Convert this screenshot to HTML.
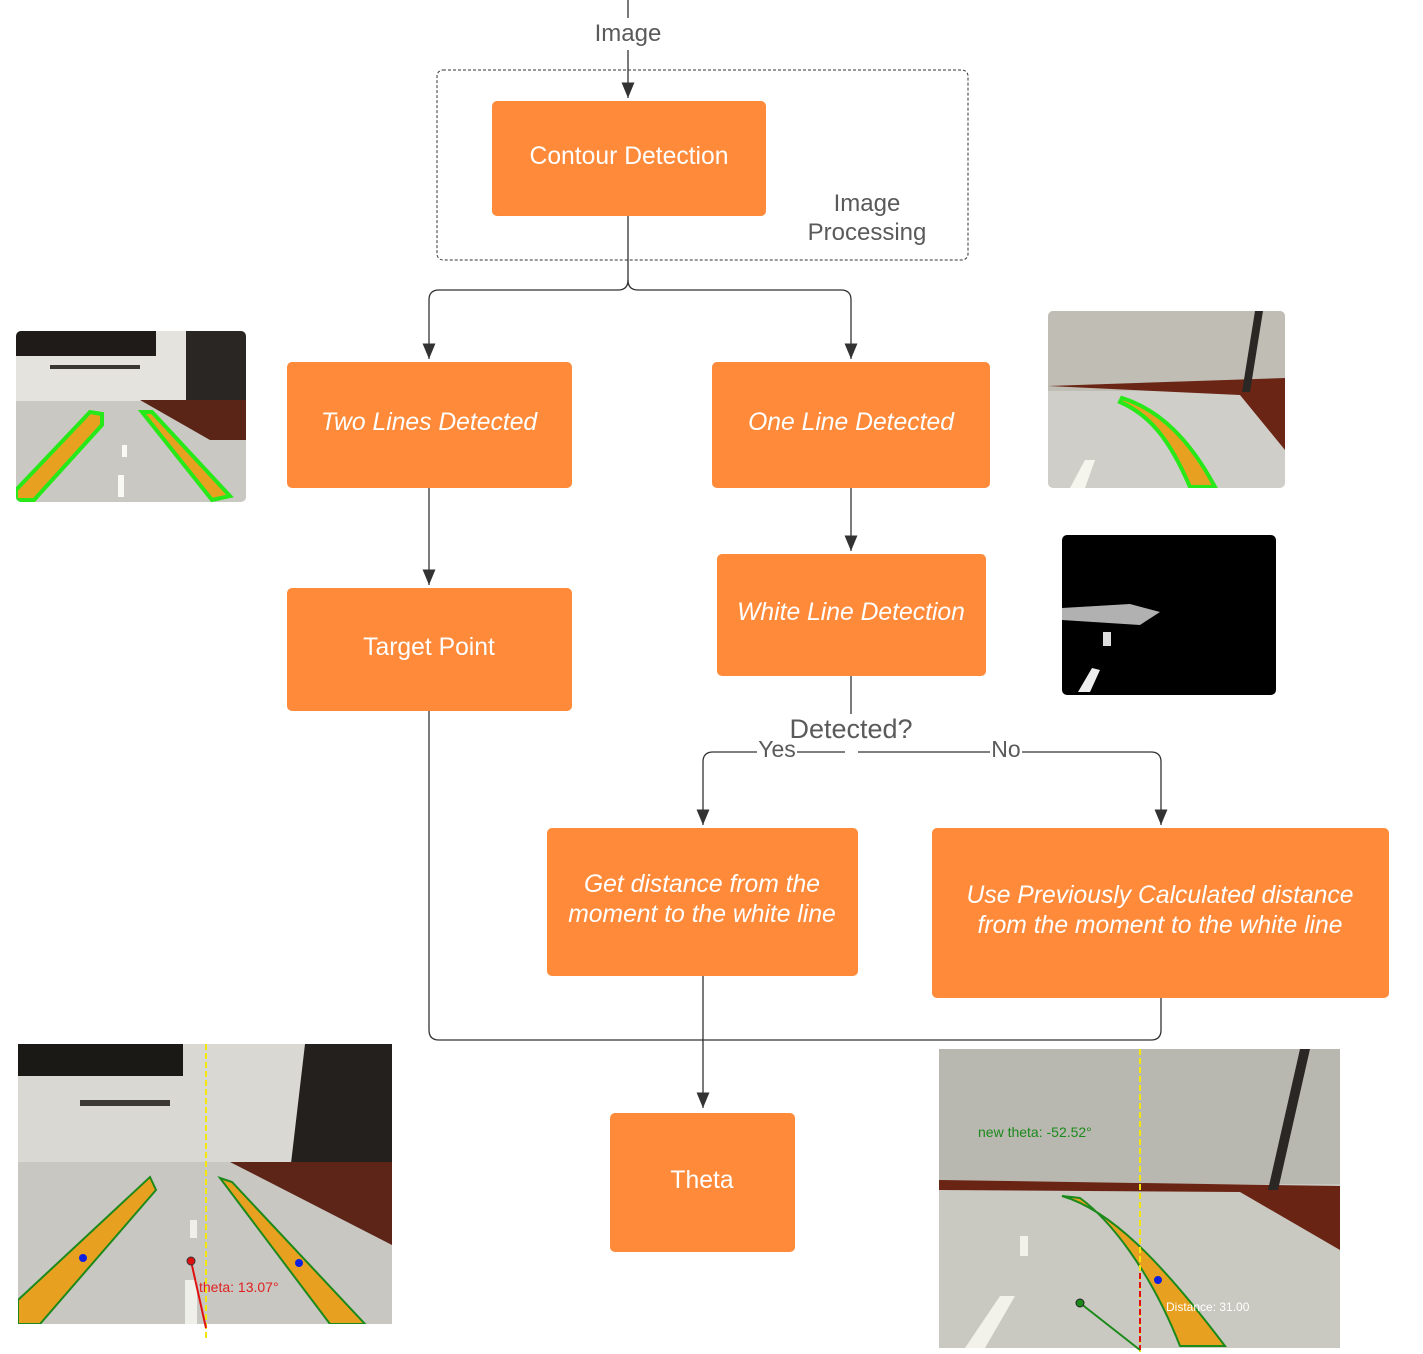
<!DOCTYPE html>
<html><head><meta charset="utf-8"><style>
html,body{margin:0;padding:0;background:#fff}
svg{display:block}
.bt{font-family:"Liberation Sans",sans-serif;font-size:24.7px;fill:#fff;text-anchor:middle}
.it{font-style:italic}
.lb{font-family:"Liberation Sans",sans-serif;font-size:24px;fill:#5a5a5a;text-anchor:middle}
.ln{stroke:#333;stroke-width:1.3;fill:none}
</style></head><body>
<svg width="1423" height="1354" viewBox="0 0 1423 1354" xmlns="http://www.w3.org/2000/svg">
<defs>
<marker id="ar" viewBox="0 0 10 12" markerWidth="10" markerHeight="12" refX="5" refY="12" orient="0"><path d="M0,0 L10,0 L5,12z" fill="#333"/></marker></defs>

<path class="ln" d="M628,0 V18"/>
<path class="ln" d="M628,50 V98" marker-end="url(#ar)"/>
<rect x="437" y="70" width="531" height="190" rx="6" fill="none" stroke="#333" stroke-dasharray="3,2"/>
<path class="ln" d="M628,216 V280 Q628,290 618,290 H439 Q429,290 429,300 V359" marker-end="url(#ar)"/>
<path class="ln" d="M628,280 Q628,290 638,290 H841 Q851,290 851,300 V359" marker-end="url(#ar)"/>
<path class="ln" d="M429,488 V585" marker-end="url(#ar)"/>
<path class="ln" d="M851,488 V551" marker-end="url(#ar)"/>
<path class="ln" d="M851,676 V714"/>
<path class="ln" d="M845,752 H713 Q703,752 703,762 V825" marker-end="url(#ar)"/>
<path class="ln" d="M858,752 H1151 Q1161,752 1161,762 V825" marker-end="url(#ar)"/>
<path class="ln" d="M703,976 V1108" marker-end="url(#ar)"/>
<path class="ln" d="M429,711 V1030 Q429,1040 439,1040 H1151 Q1161,1040 1161,1030 V998"/>
<rect x="757" y="740" width="40" height="20" fill="#fff"/>
<rect x="990" y="740" width="32" height="20" fill="#fff"/>

<text class="lb" x="628" y="41">Image</text>
<text class="lb" x="867" y="211">Image</text>
<text class="lb" x="867" y="240">Processing</text>
<text class="lb" x="851" y="738" style="font-size:27px">Detected?</text>
<text class="lb" x="777" y="757" style="font-size:23px">Yes</text>
<text class="lb" x="1006" y="757" style="font-size:23px">No</text>

<g fill="#fe8a3a">
<rect x="492" y="101" width="274" height="115" rx="5"/>
<rect x="287" y="362" width="285" height="126" rx="5"/>
<rect x="712" y="362" width="278" height="126" rx="5"/>
<rect x="287" y="588" width="285" height="123" rx="5"/>
<rect x="717" y="554" width="269" height="122" rx="5"/>
<rect x="547" y="828" width="311" height="148" rx="5"/>
<rect x="932" y="828" width="457" height="170" rx="5"/>
<rect x="610" y="1113" width="185" height="139" rx="5"/>
</g>
<text class="bt" x="629" y="164">Contour Detection</text>
<text class="bt it" x="429" y="430">Two Lines Detected</text>
<text class="bt it" x="851" y="430">One Line Detected</text>
<text class="bt" x="429" y="655">Target Point</text>
<text class="bt it" x="851" y="620">White Line Detection</text>
<text class="bt it" x="702" y="892">Get distance from the</text>
<text class="bt it" x="702" y="922">moment to the white line</text>
<text class="bt it" x="1160" y="903">Use  Previously Calculated distance</text>
<text class="bt it" x="1160" y="933">from the moment to the white line</text>
<text class="bt" x="702" y="1188">Theta</text>

<g>
<clipPath id="c1"><rect x="16" y="331" width="230" height="171" rx="5"/></clipPath>
<g clip-path="url(#c1)">
<rect x="16" y="331" width="230" height="171" fill="#c9c8c2"/>
<rect x="16" y="331" width="230" height="70" fill="#e4e3de"/>
<rect x="16" y="331" width="140" height="25" fill="#1e1b18"/>
<polygon points="186,331 246,331 246,440 186,400" fill="#2a2623"/>
<polygon points="140,400 246,400 246,440 210,440" fill="#5a2417"/>
<rect x="50" y="365" width="90" height="4" fill="#3a3632"/>
<polygon points="16,490 90,412 102,414 102,425 34,500 16,500" fill="#e8a020" stroke="#27e91a" stroke-width="4"/>
<polygon points="142,412 152,412 230,496 212,500" fill="#e8a020" stroke="#27e91a" stroke-width="4"/>
<rect x="118" y="475" width="6" height="22" fill="#fafaf4"/>
<rect x="122" y="445" width="5" height="12" fill="#fafaf4"/>
</g></g>

<g>
<clipPath id="c2"><rect x="1048" y="311" width="237" height="177" rx="5"/></clipPath>
<g clip-path="url(#c2)">
<rect x="1048" y="311" width="237" height="177" fill="#cfcec8"/>
<rect x="1048" y="311" width="237" height="80" fill="#bfbdb4"/>
<polygon points="1048,386 1285,378 1285,450 1240,395" fill="#6b2515"/>
<polygon points="1255,311 1263,311 1250,392 1242,392" fill="#2a2724"/>
<path d="M1122,398 C1160,410 1190,440 1215,487 L1190,487 C1170,440 1150,415 1120,402z" fill="#e8a020" stroke="#27e91a" stroke-width="4"/>
<polygon points="1070,488 1085,460 1095,460 1085,488" fill="#f5f5ee"/>
</g></g>

<rect x="1062" y="535" width="214" height="160" rx="5" fill="#000"/>
<polygon points="1062,608 1130,604 1160,612 1140,625 1062,620" fill="#ddd" opacity="0.8"/>
<polygon points="1078,692 1092,668 1100,670 1090,692" fill="#eee"/>
<rect x="1103" y="632" width="8" height="14" fill="#ddd"/>

<g>
<clipPath id="c3"><rect x="18" y="1044" width="374" height="280"/></clipPath>
<g clip-path="url(#c3)">
<rect x="18" y="1044" width="374" height="280" fill="#c8c7c2"/>
<rect x="18" y="1044" width="374" height="118" fill="#d9d8d3"/>
<rect x="18" y="1044" width="165" height="32" fill="#1b1915"/>
<polygon points="305,1044 392,1044 392,1172 290,1172" fill="#24201d"/>
<polygon points="230,1162 392,1162 392,1245" fill="#5d2518"/>
<rect x="80" y="1100" width="90" height="6" fill="#3b3833"/>
<polygon points="18,1300 150,1177 156,1190 40,1324 18,1324" fill="#e8a020" stroke="#1b8a1b" stroke-width="2"/>
<polygon points="220,1178 232,1182 365,1324 330,1324" fill="#e8a020" stroke="#1b8a1b" stroke-width="2"/>
<rect x="190" y="1220" width="7" height="18" fill="#f0f0ea"/>
<rect x="185" y="1280" width="12" height="44" fill="#f0f0ea"/>
<circle cx="83" cy="1258" r="4" fill="#1020e0"/>
<circle cx="299" cy="1263" r="4" fill="#1020e0"/>
</g></g>
<line x1="206" y1="1044" x2="206" y2="1340" stroke="#f5e60a" stroke-width="2" stroke-dasharray="6,3"/>
<line x1="191" y1="1261" x2="206" y2="1328" stroke="#e01010" stroke-width="2"/>
<circle cx="191" cy="1261" r="4" fill="#e01010" stroke="#333"/>
<text x="199" y="1292" font-family="Liberation Sans,sans-serif" font-size="14" fill="#e02020">theta: 13.07°</text>

<g>
<clipPath id="c4"><rect x="939" y="1049" width="401" height="299"/></clipPath>
<g clip-path="url(#c4)">
<rect x="939" y="1049" width="401" height="299" fill="#c9c9c2"/>
<rect x="939" y="1049" width="401" height="135" fill="#b9b8b0"/>
<polygon points="939,1180 1340,1186 1340,1250 1240,1192 939,1190" fill="#6a2414"/>
<polygon points="1300,1049 1310,1049 1278,1190 1268,1190" fill="#2a2724"/>
<path d="M1062,1196 C1110,1210 1160,1260 1225,1346 L1180,1346 C1150,1270 1110,1220 1080,1198z" fill="#e8a020" stroke="#1b8a1b" stroke-width="2"/>
<polygon points="965,1348 1000,1296 1015,1296 985,1348" fill="#f2f2ea"/>
<rect x="1020" y="1236" width="8" height="20" fill="#f2f2ea"/>
<circle cx="1158" cy="1280" r="4" fill="#1020e0"/>
</g></g>
<line x1="1140" y1="1049" x2="1140" y2="1352" stroke="#f5e60a" stroke-width="2" stroke-dasharray="6,3"/>
<line x1="1140" y1="1273" x2="1140" y2="1350" stroke="#e01010" stroke-width="2" stroke-dasharray="6,3"/>
<line x1="1080" y1="1303" x2="1140" y2="1350" stroke="#1b8a1b" stroke-width="2"/>
<circle cx="1080" cy="1303" r="4" fill="#1b8a1b" stroke="#222"/>
<text x="978" y="1137" font-family="Liberation Sans,sans-serif" font-size="14" fill="#1b8a1b">new theta: -52.52°</text>
<text x="1166" y="1311" font-family="Liberation Sans,sans-serif" font-size="12" fill="#fff">Distance: 31.00</text>
</svg>
</body></html>
